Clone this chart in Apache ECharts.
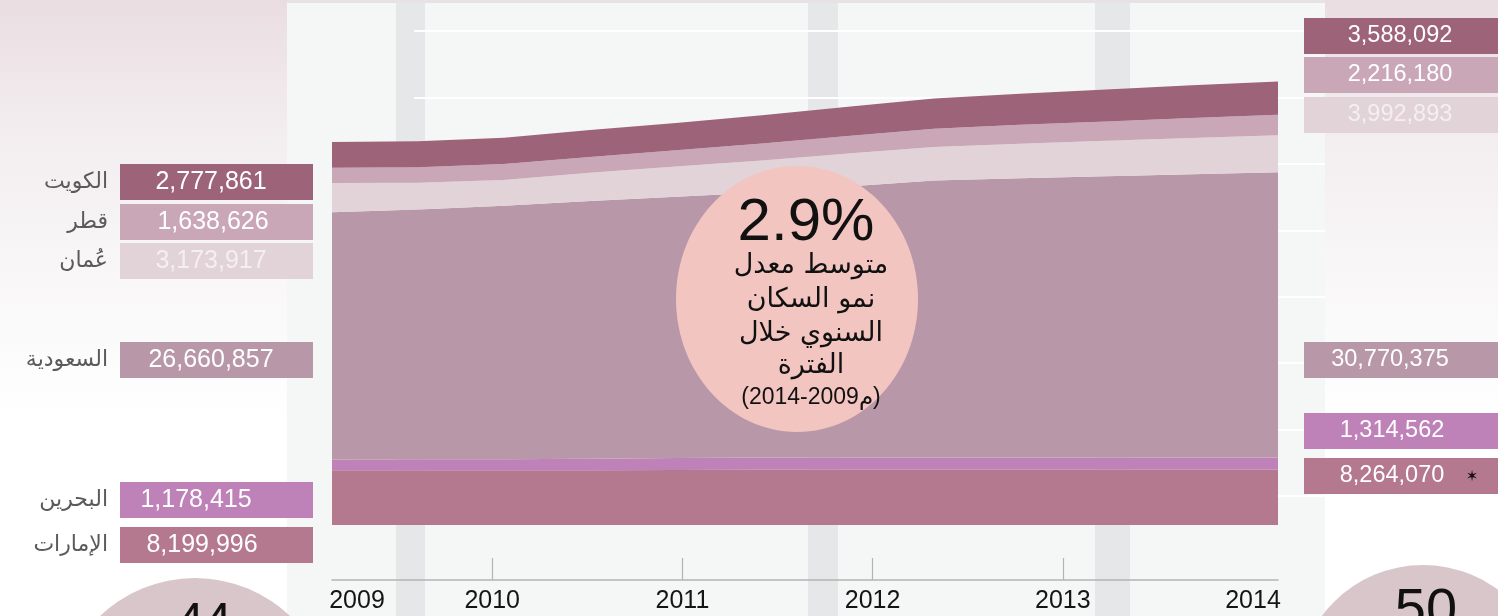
<!DOCTYPE html>
<html>
<head>
<meta charset="utf-8">
<script src="https://cdn.jsdelivr.net/npm/echarts@6/dist/echarts.min.js"></script>
<style>
  html, body { margin: 0; padding: 0; width: 1498px; height: 616px; overflow: hidden;
    background: linear-gradient(to bottom, #eadde2 0px, #f2ecee 120px, #f8f6f7 260px, #ffffff 420px); }
  .topband { position: absolute; left: 287px; top: 0; width: 1038px; height: 3px; background: #e7e3e5; }
  .panel { position: absolute; left: 287px; top: 3px; width: 1038px; height: 613px; background: #f5f6f6; }
  .stripe { position: absolute; top: 3px; height: 613px; background: #e6e7e8; }
  #chart { position: absolute; left: 0; top: 0; width: 1498px; height: 616px; }
</style>
</head>
<body>
<div class="topband"></div>
<div class="panel"></div>
<div class="stripe" style="left:396px;width:29px"></div>
<div class="stripe" style="left:808px;width:30px"></div>
<div class="stripe" style="left:1095px;width:35px"></div>
<div id="chart"></div>
<script>
// Sampling points along the period (12 steps from 2009 to 2014)
const periods = ['2009.0', '2009.5', '2009.9', '2010.4', '2010.8', '2011.3',
                 '2011.7', '2012.2', '2012.6', '2013.1', '2013.6', '2014.0'];
const yearTicks = [2009, 2010, 2011, 2012, 2013, 2014];

// Country names, bottom of the stack first
const countries = ['الإمارات', 'البحرين', 'السعودية', 'عُمان', 'قطر', 'الكويت'];

// Population per sampling point
const uae     = [8199996, 8201000, 8206000, 8216000, 8231000, 8261000, 8262000, 8262000, 8262500, 8263000, 8263500, 8264070];
const bahrain = [1178415, 1180000, 1200000, 1240000, 1290000, 1310000, 1311000, 1312000, 1312500, 1313000, 1314000, 1314562];
const saudi   = [26660857, 26950000, 27350000, 27800000, 28200000, 28600000, 29250000, 29900000, 30150000, 30350000, 30570000, 30770375];
const oman    = [3173917, 2900000, 2770000, 3050000, 3250000, 3450000, 3550000, 3620000, 3720000, 3820000, 3910000, 3992893];
const qatar   = [1638626, 1680000, 1720000, 1700000, 1750000, 1830000, 1900000, 1950000, 2030000, 2100000, 2160000, 2216180];
const kuwait  = [2777861, 2800000, 2830000, 2900000, 2950000, 3050000, 3150000, 3280000, 3360000, 3440000, 3520000, 3588092];

const growthRate = '2.9%';
const growthNote = ['متوسط معدل', 'نمو السكان', 'السنوي خلال', 'الفترة'];
const growthPeriod = '(2014-2009م)';
const startTotal = '44';
const endTotal = '50';

const seriesData = [uae, bahrain, saudi, oman, qatar, kuwait];
const colors = ['#b4788f', '#bf82b8', '#b898a8', '#e1d3d7', '#caa7b7', '#9d6379'];
const boxText = ['#ffffff', '#ffffff', '#ffffff', '#f5eff1', '#ffffff', '#ffffff'];

// Label box placement (left = first value, right = last value)
const leftBoxY  = [527, 482, 342, 243, 204, 164];
const rightBoxY = [458, 413, 342, 97, 57, 18];
const leftTextX  = [202, 196, 211, 211, 213, 211];
const rightTextX = [1392, 1392, 1390, 1400, 1400, 1400];

const fmt = n => n.toLocaleString('en-US');
const NUM_FONT = '"Liberation Sans", Arial, sans-serif';
const AR_FONT = '"DejaVu Sans", "Noto Sans", sans-serif';

const graphics = [];
seriesData.forEach((d, i) => {
  const first = d[0], last = d[d.length - 1];
  graphics.push({ type: 'rect', z: 20, shape: { x: 120, y: leftBoxY[i], width: 193, height: 36 }, style: { fill: colors[i] } });
  graphics.push({ type: 'text', z: 21, x: leftTextX[i], y: leftBoxY[i] + 18,
    style: { text: fmt(first), font: '25px ' + NUM_FONT, fill: boxText[i], align: 'center', verticalAlign: 'middle' } });
  graphics.push({ type: 'text', z: 21, x: 108, y: leftBoxY[i] + 18,
    style: { text: countries[i], font: '22px ' + AR_FONT, fill: '#5a5a5c', align: 'right', verticalAlign: 'middle' } });
  graphics.push({ type: 'rect', z: 20, shape: { x: 1304, y: rightBoxY[i], width: 194, height: 36 }, style: { fill: colors[i] } });
  graphics.push({ type: 'text', z: 21, x: rightTextX[i], y: rightBoxY[i] + 18,
    style: { text: fmt(last), font: '23.5px ' + NUM_FONT, fill: boxText[i], align: 'center', verticalAlign: 'middle' } });
});
// asterisk note beside the UAE figure
graphics.push({ type: 'text', z: 21, x: 1472, y: rightBoxY[0] + 19,
  style: { text: '✶', font: '15px "DejaVu Sans"', fill: '#111', align: 'center', verticalAlign: 'middle' } });

// growth bubble
graphics.push({ type: 'ellipse', z: 30, shape: { cx: 797, cy: 299, rx: 121, ry: 133 }, style: { fill: '#f3c5c0' } });
graphics.push({ type: 'text', z: 31, x: 806, y: 223,
  style: { text: growthRate, font: '60px ' + NUM_FONT, fill: '#111', align: 'center', verticalAlign: 'middle' } });
const bubbleY = [266, 300, 334, 366];
growthNote.forEach((t, k) => {
  graphics.push({ type: 'text', z: 31, x: 811, y: bubbleY[k],
    style: { text: t, font: '27px ' + AR_FONT, fill: '#111', align: 'center', verticalAlign: 'middle' } });
});
graphics.push({ type: 'text', z: 31, x: 811, y: 398,
  style: { text: growthPeriod, font: '23px ' + NUM_FONT + ', ' + AR_FONT, fill: '#111', align: 'center', verticalAlign: 'middle' } });

// total population bubbles at the foot
graphics.push({ type: 'circle', z: 30, shape: { cx: 195, cy: 716, r: 138 }, style: { fill: '#d9c6cb' } });
graphics.push({ type: 'text', z: 31, x: 204, y: 624,
  style: { text: startTotal, font: '50px ' + NUM_FONT, fill: '#111', align: 'center', verticalAlign: 'middle' } });
graphics.push({ type: 'circle', z: 30, shape: { cx: 1423, cy: 691, r: 126 }, style: { fill: '#d9c6cb' } });
graphics.push({ type: 'text', z: 31, x: 1426, y: 612,
  style: { text: endTotal, font: '56px ' + NUM_FONT, fill: '#111', align: 'center', verticalAlign: 'middle' } });

const chart = echarts.init(document.getElementById('chart'), null, { renderer: 'canvas' });
chart.setOption({
  backgroundColor: 'transparent',
  animation: false,
  grid: [
    { left: 332, right: 220, top: 31, bottom: 91 },   // stacked areas
    { left: 414, right: 173, top: 31, bottom: 120 },  // white guide lines
    { left: 302, right: 245, top: 540, bottom: 36 }   // year scale
  ],
  xAxis: [
    { type: 'category', gridIndex: 0, data: periods, boundaryGap: false, offset: 55,
      axisLine: { show: true, lineStyle: { color: '#b4b4b4', width: 1.5 } },
      axisTick: { show: false }, axisLabel: { show: false }, splitLine: { show: false } },
    { type: 'value', gridIndex: 1, min: 0, max: 1, show: false },
    { type: 'value', gridIndex: 2, min: 2009, max: 2014, interval: 1,
      axisLine: { show: false },
      axisTick: { show: true, inside: true, length: 22, customValues: yearTicks.slice(1, -1),
        lineStyle: { color: '#b4b4b4', width: 1.2 } },
      axisLabel: { show: true, customValues: yearTicks, margin: 9,
        fontSize: 25, fontFamily: NUM_FONT, color: '#151515',
        formatter: v => v === yearTicks[0] ? '{first|' + v + '}' : String(v),
        rich: { first: { padding: [0, 0, 0, 110], fontSize: 25, fontFamily: NUM_FONT, color: '#151515' } } },
      splitLine: { show: false } }
  ],
  yAxis: [
    { type: 'value', gridIndex: 0, min: 2300000, max: 55600000, show: false },
    { type: 'value', gridIndex: 1, min: 0, max: 7, interval: 1,
      axisLine: { show: false }, axisTick: { show: false }, axisLabel: { show: false },
      splitLine: { show: true, lineStyle: { color: '#ffffff', width: 2 } } },
    { type: 'value', gridIndex: 2, min: 0, max: 1, show: false }
  ],
  series: seriesData.map((d, i) => ({
    type: 'line', name: countries[i], stack: 'population', data: d,
    xAxisIndex: 0, yAxisIndex: 0, symbol: 'none', silent: true,
    lineStyle: { width: 0 }, itemStyle: { color: colors[i] },
    areaStyle: { color: colors[i], opacity: 1 }, z: 2 + i * 0.01
  })),
  graphic: graphics
});
</script>
</body>
</html>
